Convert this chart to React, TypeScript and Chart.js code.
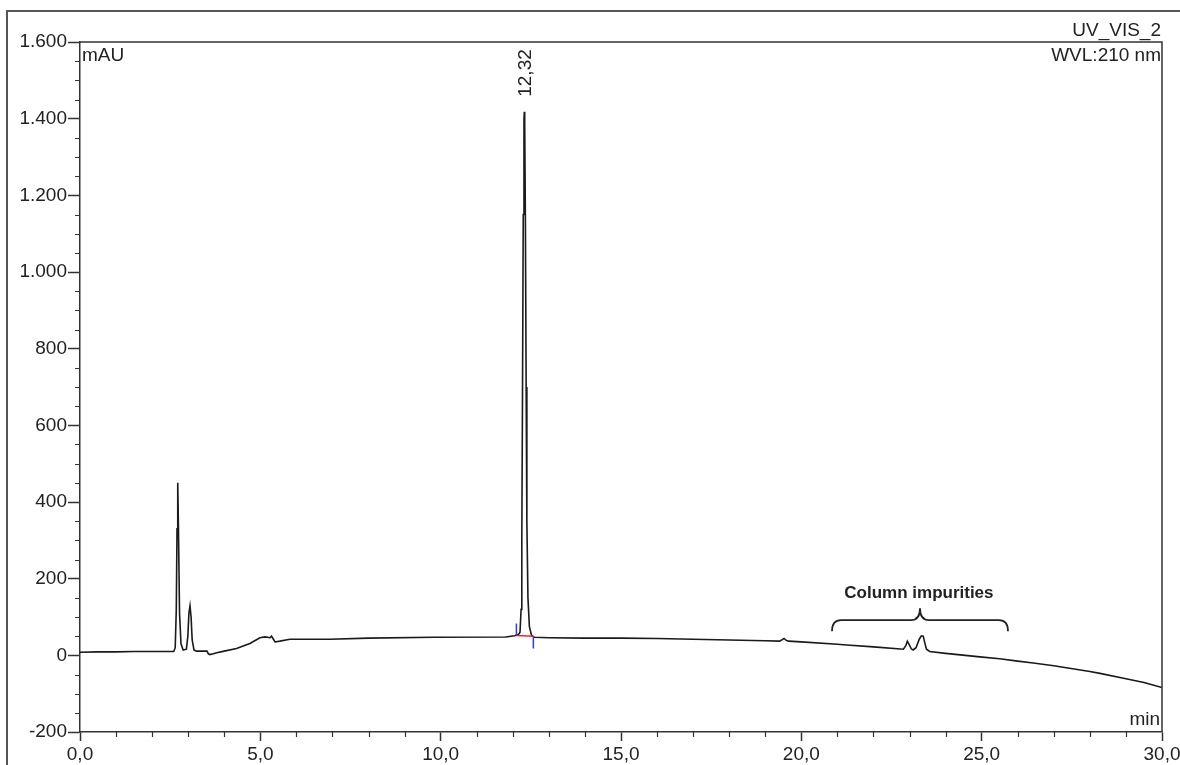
import React, { useEffect, useRef } from 'react';
import { Chart, registerables } from 'chart.js';

Chart.register(...registerables);

// ---- Chromatogram data (retention time in min, signal in mAU) ----
const times = [
  0.0, 0.5, 1.0, 1.5, 2.0, 2.4, 2.6, 2.64, 2.67, 2.69,
  2.71, 2.73, 2.76, 2.8, 2.86, 2.95, 2.99, 3.02, 3.05, 3.08,
  3.11, 3.16, 3.23, 3.52, 3.56, 3.6, 3.7, 3.79, 4.0, 4.34,
  4.71, 4.99, 5.13, 5.27, 5.31, 5.35, 5.41, 5.54, 5.82, 6.93,
  8.0, 9.8, 11.8, 12.05, 12.16, 12.2, 12.23, 12.25, 12.27, 12.29,
  12.31, 12.32, 12.33, 12.35, 12.37, 12.39, 12.42, 12.46, 12.52, 12.6,
  13.0, 14.0, 15.0, 16.0, 17.0, 18.0, 19.0, 19.4, 19.47, 19.52,
  19.58, 19.65, 20.0, 21.0, 21.26, 22.0, 22.83, 22.9, 22.94, 22.98,
  23.05, 23.1, 23.18, 23.27, 23.33, 23.38, 23.43, 23.47, 23.56, 24.0,
  24.95, 25.5, 26.0, 26.43, 27.0, 28.0, 28.28, 29.0, 29.5, 30.0,
];
const signal = [
  8, 9, 9, 10, 10, 10, 10, 20, 120, 330,
  450, 330, 110, 30, 14, 16, 50, 110, 129, 100,
  40, 14, 11, 11, 4, 2, 4, 7, 11, 18,
  31, 46, 48, 46, 50, 44, 35, 37, 42, 42,
  45, 47, 48, 51, 55, 60, 120, 300, 700, 1150,
  1400, 1418, 1390, 1120, 700, 350, 150, 75, 52, 47,
  46, 45, 45, 44, 42, 40, 38, 37, 41, 44,
  39, 37, 35, 29, 27, 22, 16, 26, 37, 30,
  17, 14, 20, 42, 51, 50, 30, 16, 10, 5,
  -4, -9, -15, -20, -27, -42, -47, -61, -71, -84,
];

// Peak annotation
const peakTime = 12.32;
const peakHeight = 1418;
const peakLabel = '12,32';

// Integration marks of the main peak
const integrationTimes = [12.1, 12.57];
const integrationBaseline = [52, 50];
const startMarkValues = [53, 83];
const endMarkValues = [50, 18];

// "Column impurities" brace: [start, tip, end] times and [ends, middle, tip] values
const braceTimes = [20.85, 23.29, 25.73];
const braceValues = [63, 92, 123];
const impurityLabel = 'Column impurities';
const impurityLabelTime = 23.26;
const impurityLabelValue = 150;

// Axes
const xMin = 0;
const xMax = 30;
const xMajorStep = 5;
const xMinorStep = 1;
const yMin = -200;
const yMax = 1600;
const yMajorStep = 200;
const yMinorStep = 50;
const channelName = 'UV_VIS_2';
const wavelengthText = 'WVL:210 nm';
const yUnit = 'mAU';
const xUnit = 'min';

const FONT = '"Liberation Sans", Arial, Helvetica, sans-serif';
const INK = '#222';

function fmtY(v: number): string {
  const neg = v < 0;
  const s = Math.abs(Math.round(v)).toString();
  const withDots = s.replace(/\B(?=(\d{3})+(?!\d))/g, '.');
  return (neg ? '-' : '') + withDots;
}

function fmtX(v: number): string {
  return v.toFixed(1).replace('.', ',');
}

const decorPlugin = {
  id: 'decor',
  afterDraw(chart: any) {
    const { ctx, chartArea } = chart;
    const xs = chart.scales.x;
    const ys = chart.scales.y;
    ctx.save();

    // frame top and right
    ctx.strokeStyle = '#333';
    ctx.lineWidth = 1.5;
    ctx.beginPath();
    ctx.moveTo(chartArea.left, chartArea.top);
    ctx.lineTo(chartArea.right, chartArea.top);
    ctx.lineTo(chartArea.right, chartArea.bottom);
    ctx.stroke();

    // minor ticks
    ctx.lineWidth = 1.2;
    ctx.beginPath();
    for (let v = yMin; v <= yMax; v += yMinorStep) {
      if (v % yMajorStep === 0) continue;
      const py = Math.round(ys.getPixelForValue(v)) + 0.5;
      ctx.moveTo(chartArea.left - 5, py);
      ctx.lineTo(chartArea.left, py);
    }
    for (let v = xMin; v <= xMax; v += xMinorStep) {
      if (v % xMajorStep === 0) continue;
      const px = Math.round(xs.getPixelForValue(v)) + 0.5;
      ctx.moveTo(px, chartArea.bottom);
      ctx.lineTo(px, chartArea.bottom + 5);
    }
    ctx.stroke();

    // texts
    ctx.fillStyle = INK;
    ctx.font = `19px ${FONT}`;
    ctx.textBaseline = 'alphabetic';
    ctx.textAlign = 'right';
    ctx.fillText(channelName, chartArea.right - 1, chartArea.top - 6);
    ctx.fillText(wavelengthText, chartArea.right - 1, chartArea.top + 19);
    ctx.fillText(xUnit, chartArea.right - 2, chartArea.bottom - 7);
    ctx.textAlign = 'left';
    ctx.fillText(yUnit, chartArea.left + 2, chartArea.top + 19);

    // peak label (rotated)
    const px = xs.getPixelForValue(peakTime);
    const py = ys.getPixelForValue(peakHeight);
    ctx.save();
    ctx.translate(px + 1, py - 15);
    ctx.rotate(-Math.PI / 2);
    ctx.textAlign = 'left';
    ctx.textBaseline = 'middle';
    ctx.fillText(peakLabel, 0, 0);
    ctx.restore();

    // impurity label
    ctx.font = `bold 17px ${FONT}`;
    ctx.textAlign = 'center';
    ctx.textBaseline = 'alphabetic';
    ctx.fillText(
      impurityLabel,
      xs.getPixelForValue(impurityLabelTime),
      ys.getPixelForValue(impurityLabelValue)
    );

    // brace
    const x1 = xs.getPixelForValue(braceTimes[0]);
    const xm = xs.getPixelForValue(braceTimes[1]);
    const x2 = xs.getPixelForValue(braceTimes[2]);
    const yB = ys.getPixelForValue(braceValues[0]);
    const yM = ys.getPixelForValue(braceValues[1]);
    const yT = ys.getPixelForValue(braceValues[2]);
    const r = 9;
    ctx.strokeStyle = INK;
    ctx.lineWidth = 1.8;
    ctx.beginPath();
    ctx.moveTo(x1, yB);
    ctx.quadraticCurveTo(x1, yM, x1 + r, yM);
    ctx.lineTo(xm - r, yM);
    ctx.quadraticCurveTo(xm, yM, xm, yT);
    ctx.quadraticCurveTo(xm, yM, xm + r, yM);
    ctx.lineTo(x2 - r, yM);
    ctx.quadraticCurveTo(x2, yM, x2, yB);
    ctx.stroke();

    ctx.restore();
  },
};

export default function App() {
  const canvasRef = useRef<HTMLCanvasElement | null>(null);

  useEffect(() => {
    if (!canvasRef.current) return;
    const mainData = times.map((t, i) => ({ x: t, y: signal[i] }));
    const chart = new Chart(canvasRef.current, {
      type: 'line',
      data: {
        datasets: [
          {
            data: integrationTimes.map((t, i) => ({ x: t, y: integrationBaseline[i] })),
            borderColor: '#ff2020',
            borderWidth: 1.5,
            pointRadius: 0,
          },
          {
            data: startMarkValues.map((v) => ({ x: integrationTimes[0], y: v })),
            borderColor: '#2040ff',
            borderWidth: 1.5,
            pointRadius: 0,
          },
          {
            data: endMarkValues.map((v) => ({ x: integrationTimes[1], y: v })),
            borderColor: '#2040ff',
            borderWidth: 1.5,
            pointRadius: 0,
          },
          {
            data: mainData,
            borderColor: '#1a1a1a',
            borderWidth: 1.6,
            pointRadius: 0,
            tension: 0,
          },
        ],
      },
      options: {
        animation: false,
        responsive: true,
        maintainAspectRatio: false,
        parsing: false,
        normalized: true,
        layout: { padding: { top: 42, right: 18, bottom: 0, left: 0 } },
        plugins: {
          legend: { display: false },
          tooltip: { enabled: false },
        },
        events: [],
        scales: {
          x: {
            type: 'linear',
            min: xMin,
            max: xMax,
            afterFit: (scale: any) => {
              scale.height = 33;
              scale.paddingLeft = 0;
              scale.paddingRight = 0;
            },
            grid: {
              drawOnChartArea: false,
              drawTicks: true,
              tickLength: 9,
              tickColor: '#333',
              tickWidth: 1.5,
            },
            border: { display: true, color: '#333', width: 1.5 },
            ticks: {
              stepSize: xMajorStep,
              autoSkip: false,
              maxRotation: 0,
              padding: 2,
              color: INK,
              font: { family: FONT, size: 19 },
              callback: (v: any) => fmtX(Number(v)),
            },
          },
          y: {
            type: 'linear',
            min: yMin,
            max: yMax,
            afterFit: (scale: any) => {
              scale.width = 80;
              scale.paddingTop = 0;
              scale.paddingBottom = 0;
            },
            grid: {
              drawOnChartArea: false,
              drawTicks: true,
              tickLength: 12,
              tickColor: '#333',
              tickWidth: 1.5,
            },
            border: { display: true, color: '#333', width: 1.5 },
            ticks: {
              stepSize: yMajorStep,
              autoSkip: false,
              padding: 1,
              color: INK,
              font: { family: FONT, size: 19 },
              callback: (v: any) => fmtY(Number(v)),
            },
          },
        },
      },
      plugins: [decorPlugin],
    });
    return () => chart.destroy();
  }, []);

  return (
    <div style={{ position: 'absolute', left: 0, top: 0, width: 1180, height: 765, background: '#fff' }}>
      <div
        style={{
          position: 'absolute',
          left: 6,
          top: 10,
          right: 0,
          bottom: 0,
          borderTop: '2px solid #555',
          borderLeft: '2px solid #555',
        }}
      />
      <canvas ref={canvasRef} style={{ position: 'absolute', left: 0, top: 0 }} />
    </div>
  );
}
